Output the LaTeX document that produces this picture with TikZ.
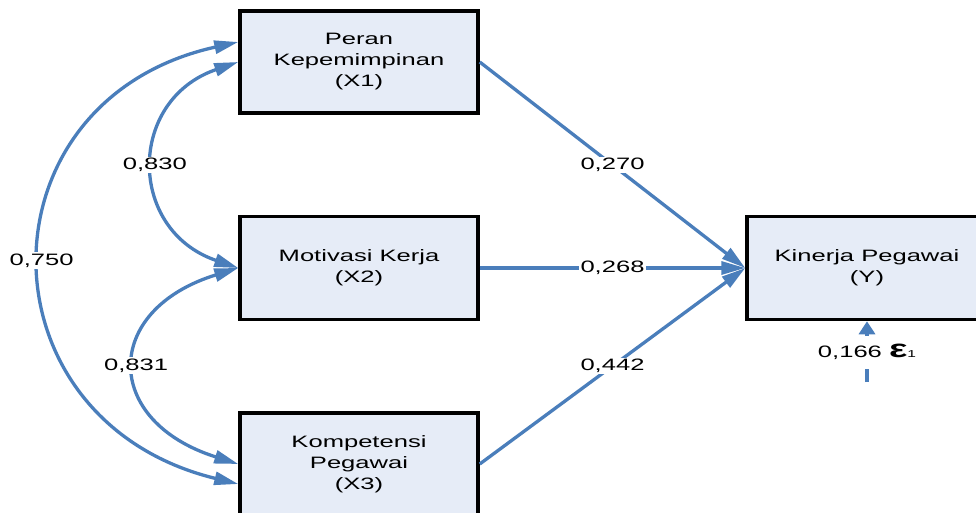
\documentclass[tikz,border=0pt]{standalone}
\usepackage{fontspec}
\setmainfont{Liberation Sans}[FakeStretch=1.55]
\usetikzlibrary{arrows.meta,calc}
\definecolor{lineblue}{RGB}{74,126,187}
\definecolor{boxfill}{RGB}{230,236,247}
\begin{document}
\begin{tikzpicture}[x=1pt,y=-1pt,
  font=\fontsize{16.5}{21}\selectfont,
  box/.style={draw=black, line width=3.5pt, fill=boxfill, minimum width=238pt, minimum height=102pt, align=center, inner sep=0pt},
  tip/.tip={Triangle[length=24pt,width=13pt]},
  conn/.style={draw=lineblue, line width=3.3pt, -tip},
  dconn/.style={draw=lineblue, line width=3.3pt, tip-tip},
  lbl/.style={fill=white, inner sep=1.5pt}]
\useasboundingbox (0,0) rectangle (976,512);
\clip (0,0) rectangle (976,512);

\node[box] (X1) at (359,62) {Peran\\Kepemimpinan\\(X1)};
\node[box, minimum height=103pt] (X2) at (359,268) {Motivasi Kerja\\(X2)};
\node[box] (X3) at (359,464) {Kompetensi\\Pegawai\\(X3)};
\node[box, minimum width=240pt, minimum height=103pt] (Y) at (867,268) {Kinerja Pegawai\\(Y)};

\draw[conn] (X1.east) -- (Y.west) node[lbl, pos=0.5] {0,270};
\draw[conn] (X2.east) -- (Y.west) node[lbl, pos=0.5] {0,268};
\draw[conn] (X3.east) -- (Y.west) node[lbl, pos=0.5] {0,442};

\draw[dconn] (X1.west) .. controls (127,100) and (127,230) .. (X2.west) node[lbl, pos=0.5] {0,830};
\draw[dconn] (X2.west) .. controls (102,310) and (102,421) .. (X3.west) node[lbl, pos=0.5] {0,831};
\draw[dconn] ([yshift=20pt]X1.west) .. controls (-24,100) and (-24,420) .. ([yshift=-20pt]X3.west) node[lbl, pos=0.5] {0,750};

\coordinate (e) at (867,382);
\draw[conn, -{Triangle[length=13pt,width=16pt]}] (e) -- (Y.south) node[lbl, pos=0.49, minimum height=33pt, inner xsep=2pt] {0,166 {\fontsize{25}{25}\selectfont\bfseries ε}{\fontsize{10}{10}\selectfont 1}};
\end{tikzpicture}
\end{document}
